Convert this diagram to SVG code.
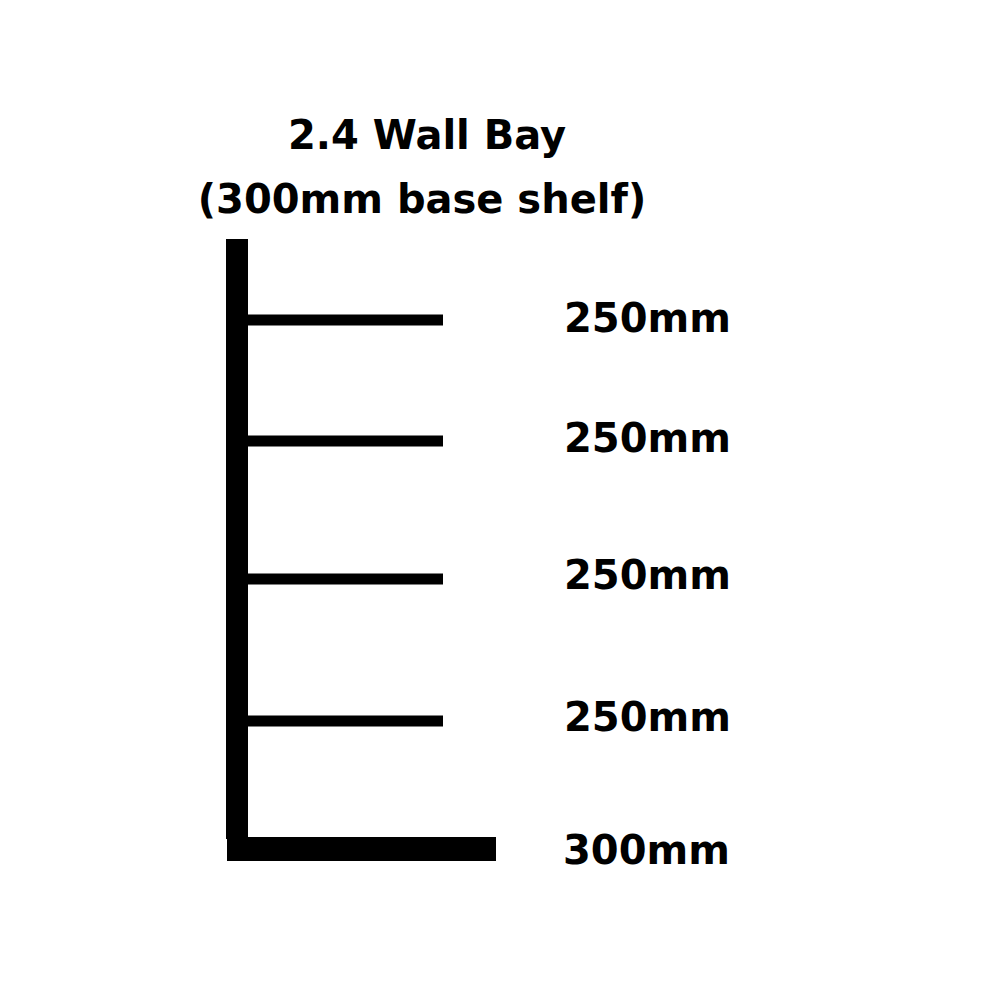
<svg xmlns="http://www.w3.org/2000/svg" width="1000" height="1000" viewBox="0 0 1000 1000">
<style>
text{font-family:"DejaVu Sans","Liberation Sans",sans-serif;font-weight:bold;fill:#000}
.lbl{font-size:40px}
.ttl{font-size:40px}
.shelf{stroke:#000;stroke-width:11}
</style>
<rect width="1000" height="1000" fill="#fff"/>
<g id="title">
<text class="ttl" x="427" y="149" text-anchor="middle">2.4 Wall Bay</text>
<text class="ttl" x="422" y="213" text-anchor="middle">(300mm base shelf)</text>
</g>
<g id="upright"><rect x="226" y="239" width="22" height="600" fill="#000"/></g>
<g id="base"><rect x="227" y="837" width="269" height="24" fill="#000"/></g>
<g id="shelves">
<line class="shelf" x1="246" y1="320" x2="443" y2="320"/>
<line class="shelf" x1="246" y1="441" x2="443" y2="441"/>
<line class="shelf" x1="246" y1="579" x2="443" y2="579"/>
<line class="shelf" x1="246" y1="721" x2="443" y2="721"/>
</g>
<g id="labels">
<text class="lbl" x="564" y="332">250mm</text>
<text class="lbl" x="564" y="452">250mm</text>
<text class="lbl" x="564" y="589">250mm</text>
<text class="lbl" x="564" y="731">250mm</text>
<text class="lbl" x="563" y="864">300mm</text>
</g>
</svg>
